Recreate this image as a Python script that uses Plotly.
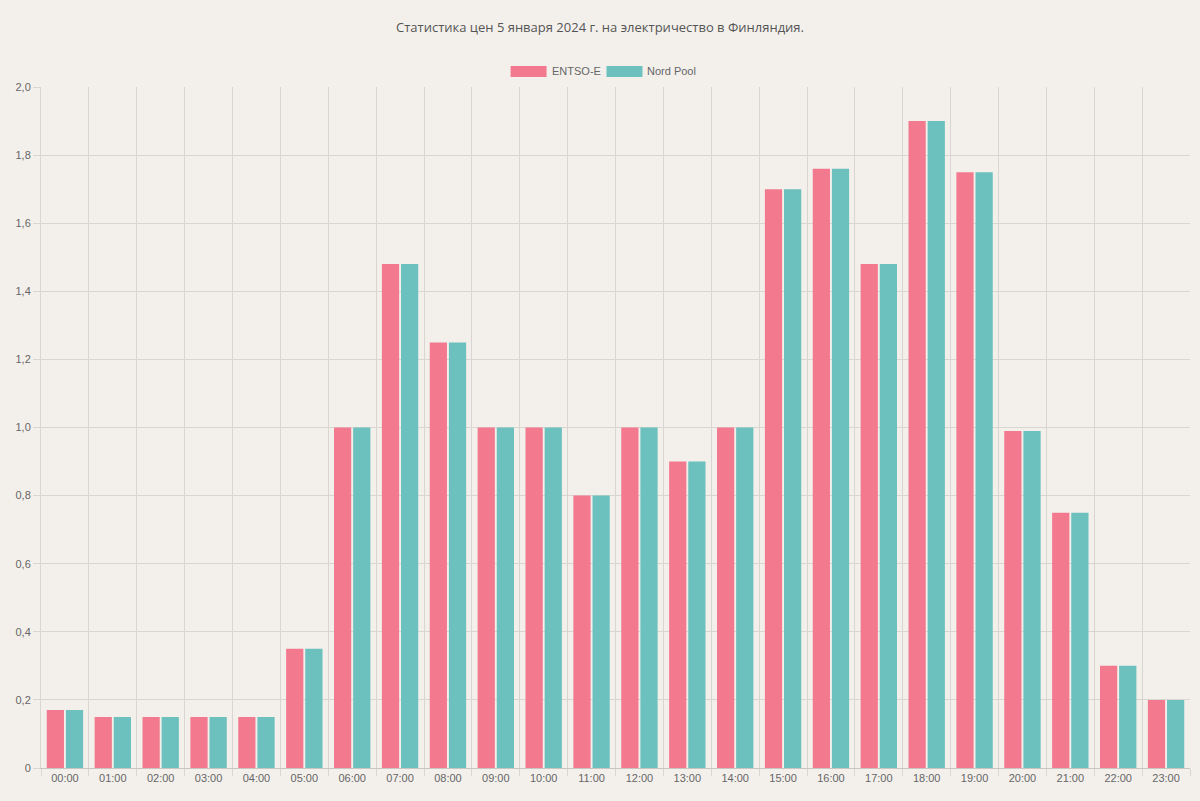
import plotly.graph_objects as go

hours = ["00:00","01:00","02:00","03:00","04:00","05:00","06:00","07:00","08:00","09:00","10:00","11:00",
         "12:00","13:00","14:00","15:00","16:00","17:00","18:00","19:00","20:00","21:00","22:00","23:00"]
entsoe = [0.17,0.15,0.15,0.15,0.15,0.35,1.0,1.48,1.25,1.0,1.0,0.8,1.0,0.9,1.0,1.7,1.76,1.48,1.9,1.75,0.99,0.75,0.3,0.2]
nordpool = [0.17,0.15,0.15,0.15,0.15,0.35,1.0,1.48,1.25,1.0,1.0,0.8,1.0,0.9,1.0,1.7,1.76,1.48,1.9,1.75,0.99,0.75,0.3,0.2]
series_names = ["ENTSO-E", "Nord Pool"]
ytickvals = [0, 0.2, 0.4, 0.6, 0.8, 1.0, 1.2, 1.4, 1.6, 1.8, 2.0]
yticktext = ["0", "0,2", "0,4", "0,6", "0,8", "1,0", "1,2", "1,4", "1,6", "1,8", "2,0"]

pink = "#F37A8E"
teal = "#6CC0BE"
bg = "#F3F0EC"
grid = "#D9D6D2"

fig = go.Figure()
fig.add_trace(go.Bar(x=hours, y=entsoe, name=series_names[0], marker=dict(color=pink, line=dict(width=0)), showlegend=False))
fig.add_trace(go.Bar(x=hours, y=nordpool, name=series_names[1], marker=dict(color=teal, line=dict(width=0)), showlegend=False))

# custom legend (wide swatches like the original)
shapes = []
annotations = []
items = [(series_names[0], pink, 511, 547), (series_names[1], teal, 607, 643)]
for name, col, x0, x1 in items:
    shapes.append(dict(type="rect", xref="paper", yref="paper",
                       x0=(x0 - 41) / 1150, x1=(x1 - 41) / 1150,
                       y0=1 + (87 - 77) / 681, y1=1 + (87 - 66) / 681,
                       fillcolor=col, line=dict(width=0)))
    annotations.append(dict(xref="paper", yref="paper", x=(x1 + 3 - 41) / 1150, y=1 + (87 - 71.5) / 681,
                            text=name, showarrow=False, xanchor="left", yanchor="middle",
                            font=dict(family="Liberation Sans, Arial", size=11, color="#666")))

fig.update_layout(
    width=1200, height=801,
    margin=dict(l=41, r=10, t=87, b=33),
    paper_bgcolor=bg, plot_bgcolor=bg,
    barmode="group", bargap=0.2, bargroupgap=0.1,
    title=dict(text="Статистика цен 5 января 2024 г. на электричество в Финляндия.",
               x=0.5, xanchor="center", y=1 - 27 / 801, yanchor="middle",
               font=dict(family="Open Sans, Noto Sans", size=13, color="#555")),
    shapes=shapes, annotations=annotations,
    xaxis=dict(type="category", tickson="boundaries", showgrid=True, gridcolor=grid, gridwidth=1,
               ticks="outside", ticklen=7, tickcolor=grid, showline=True, linecolor="#C8C5C1",
               tickfont=dict(family="Liberation Sans, Arial", size=11, color="#666"),
               range=[-0.5, 23.5]),
    yaxis=dict(range=[0, 2], tickvals=ytickvals, ticktext=yticktext, showgrid=True, gridcolor=grid,
               ticks="outside", ticklen=7, tickcolor=grid, showline=True, linecolor=grid,
               zeroline=False,
               tickfont=dict(family="Liberation Sans, Arial", size=11, color="#666")),
)

fig.write_html("out.html", config={"displayModeBar": False},
               post_script="document.body.style.margin='0';document.body.style.overflow='hidden';document.body.style.background='" + bg + "';")
